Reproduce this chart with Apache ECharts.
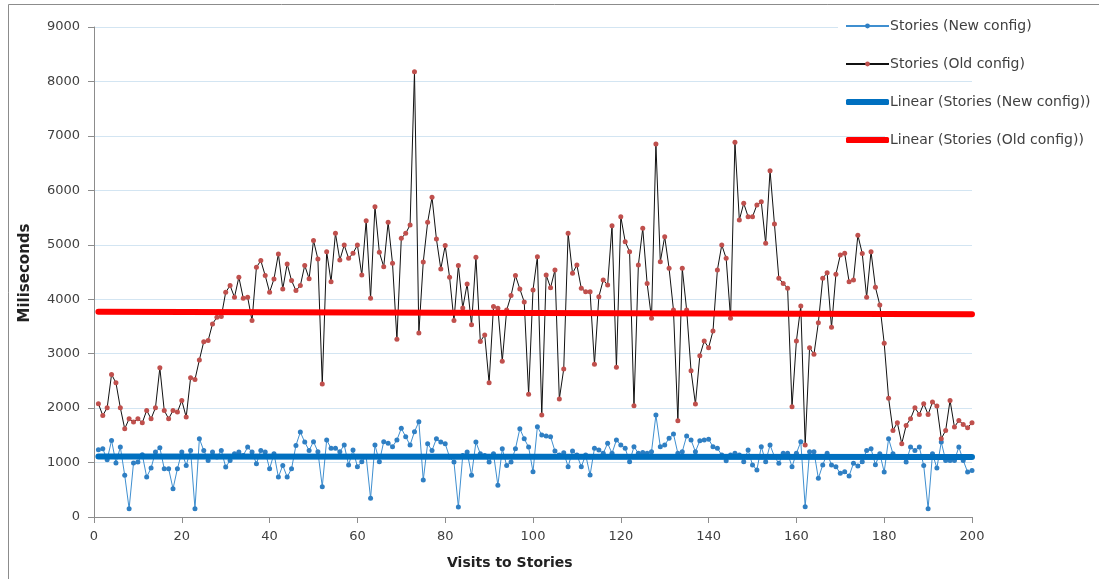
<!DOCTYPE html>
<html>
<head>
<meta charset="utf-8">
<script src="https://cdn.jsdelivr.net/npm/echarts@6/dist/echarts.min.js"></script>
<style>
html,body{margin:0;padding:0;background:#fff;}
#chart{width:1099px;height:579px;}
</style>
</head>
<body>
<div id="chart"></div>
<script>
// ---- data ----
const seriesNames = ['Stories (New config)', 'Stories (Old config)', 'Linear (Stories (New config))', 'Linear (Stories (Old config))'];
const xTicks = [0, 20, 40, 60, 80, 100, 120, 140, 160, 180, 200];
const yTicks = [0, 1000, 2000, 3000, 4000, 5000, 6000, 7000, 8000, 9000];

const newConfig = [
1235,1254,1052,1407,991,1284,765,153,991,1009,
1144,734,899,1193,1272,887,887,520,887,1193,
948,1223,153,1437,1223,1040,1193,1101,1223,917,
1040,1162,1193,1131,1284,1193,979,1223,1193,887,
1162,734,948,734,887,1315,1560,1376,1223,1384,
1200,557,1414,1261,1261,1200,1322,955,1231,924,
1016,1108,343,1322,1016,1384,1353,1292,1414,1628,
1475,1322,1567,1750,680,1346,1223,1437,1376,1346,
1100,1009,183,1131,1193,765,1376,1162,1131,1009,
1162,581,1254,948,1009,1254,1621,1437,1284,830,
1659,1506,1488,1475,1212,1139,1182,924,1212,1139,
924,1139,771,1261,1231,1169,1353,1169,1414,1322,
1261,1016,1292,1170,1185,1169,1200,1873,1292,1322,
1445,1524,1169,1200,1488,1414,1200,1402,1414,1426,
1292,1261,1139,1035,1139,1169,1139,1016,1231,955,
863,1292,1016,1322,1108,986,1169,1169,924,1169,
1384,190,1200,1200,710,955,1169,955,924,802,
832,753,986,936,1013,1223,1254,960,1162,826,
1437,1162,1100,1100,1009,1284,1223,1284,948,153,
1162,899,1376,1040,1040,1040,1284,1040,826,856
];

const oldConfig = [
2080,1865,2006,2618,2465,2006,1621,1804,1743,1804,
1731,1957,1804,2006,2740,1957,1804,1957,1927,2140,
1835,2557,2526,2885,3220,3241,3547,3670,3682,4128,
4251,4037,4404,4018,4037,3608,4587,4709,4434,4128,
4373,4832,4189,4648,4342,4159,4251,4620,4378,5080,
4738,2443,4873,4322,5210,4720,4995,4751,4843,4995,
4445,5442,4016,5700,4861,4598,5412,4659,3263,5118,
5210,5363,8179,3380,4684,5413,5871,5107,4556,4985,
4404,3608,4618,3841,4281,3529,4770,3223,3345,2465,
3865,3835,2862,3800,4067,4434,4189,3950,2255,4170,
4781,1873,4445,4212,4536,2167,2718,5210,4475,4628,
4200,4139,4139,2804,4047,4353,4261,5351,2749,5516,
5057,4873,2045,4628,5302,4291,3649,6851,4689,5149,
4567,3802,1769,4567,3802,2688,2075,2963,3232,3110,
3416,4536,4996,4751,3649,6882,5455,5761,5516,5516,
5731,5792,5026,6361,5381,4383,4291,4200,2026,3232,
3875,1322,3110,2988,3569,4383,4487,3483,4457,4812,
4843,4322,4353,5175,4840,4037,4874,4220,3896,3193,
2183,1590,1731,1346,1682,1804,2006,1884,2080,1884,
2110,2037,1437,1590,2141,1651,1774,1700,1639,1731
];

// trend line end values (first and last visit)
const trendNewEnds = [1110, 1100];
const trendOldEnds = [3771, 3723];

// ---- build ----
const pairs = arr => arr.map((v, i) => [i + 1, v]);
const firstX = 1, lastX = newConfig.length;

const chart = echarts.init(document.getElementById('chart'), null, {renderer: 'canvas'});
const FONT = 'DejaVu Sans';
const txt = '#404040';

chart.setOption({
  animation: false,
  backgroundColor: '#fff',
  grid: {left: 94, right: 127, top: 27, bottom: 62, containLabel: false},
  xAxis: {
    type: 'value', min: xTicks[0], max: xTicks[xTicks.length - 1], interval: 20,
    axisLine: {show: true, lineStyle: {color: '#8c8c8c', width: 1}},
    axisTick: {show: true, length: 6, lineStyle: {color: '#8c8c8c'}},
    axisLabel: {color: txt, fontFamily: FONT, fontSize: 13, margin: 13, formatter: v => String(v)},
    splitLine: {show: false}
  },
  yAxis: {
    type: 'value', min: yTicks[0], max: yTicks[yTicks.length - 1], interval: 1000,
    axisLine: {show: true, lineStyle: {color: '#8c8c8c', width: 1}},
    axisTick: {show: true, length: 6, lineStyle: {color: '#8c8c8c'}},
    axisLabel: {color: txt, fontFamily: FONT, fontSize: 13, margin: 14, formatter: v => String(v)},
    splitLine: {show: true, lineStyle: {color: '#d3e5f2', width: 1}}
  },
  legend: {
    orient: 'vertical', left: 840, top: 14,
    itemWidth: 43, itemHeight: 6, itemGap: 24,
    textStyle: {color: txt, fontFamily: FONT, fontSize: 14, padding: [0, 0, 0, -4]},
    data: [
      {name: seriesNames[0]},
      {name: seriesNames[1]},
      {name: seriesNames[2], icon: 'roundRect', itemStyle: {color: '#0070c0'}},
      {name: seriesNames[3], icon: 'roundRect', itemStyle: {color: '#ff0000'}}
    ]
  },
  graphic: [
    {type: 'rect', shape: {x: 8.5, y: 4.5, width: 1200, height: 600}, style: {fill: 'none', stroke: '#8c8c8c', lineWidth: 1}, silent: true, z: -10},
    {type: 'rect', shape: {x: 838, y: 17, width: 261, height: 15}, style: {fill: '#fff'}, silent: true, z: 1},
    {type: 'rect', shape: {x: 885, y: 129, width: 214, height: 17}, style: {fill: '#fff'}, silent: true, z: 1},
    {type: 'text', left: 447, top: 556, style: {text: 'Visits to Stories', fill: '#222', font: 'bold 14px "DejaVu Sans"'}, z: 5},
    {type: 'text', x: 25, y: 273, rotation: Math.PI / 2, style: {text: 'Miliseconds', fill: '#222', font: 'bold 15px "DejaVu Sans"', align: 'center', verticalAlign: 'middle'}, z: 5}
  ],
  series: [
    {
      name: seriesNames[0], type: 'line', data: pairs(newConfig),
      symbol: 'circle', symbolSize: 5, showSymbol: true,
      lineStyle: {color: '#3f8fd0', width: 1},
      itemStyle: {color: '#2f7fc3'}, z: 2
    },
    {
      name: seriesNames[1], type: 'line', data: pairs(oldConfig),
      symbol: 'circle', symbolSize: 5, showSymbol: true,
      lineStyle: {color: '#111', width: 1},
      itemStyle: {color: '#c0504d'}, z: 2
    },
    {
      name: seriesNames[2], type: 'line',
      data: [[firstX, trendNewEnds[0]], [lastX, trendNewEnds[1]]],
      symbol: 'none', lineStyle: {color: '#0070c0', width: 6, cap: 'round'},
      itemStyle: {color: '#0070c0'}, z: 3
    },
    {
      name: seriesNames[3], type: 'line',
      data: [[firstX, trendOldEnds[0]], [lastX, trendOldEnds[1]]],
      symbol: 'none', lineStyle: {color: '#ff0000', width: 6, cap: 'round'},
      itemStyle: {color: '#ff0000'}, z: 3
    }
  ]
});
</script>
</body>
</html>
